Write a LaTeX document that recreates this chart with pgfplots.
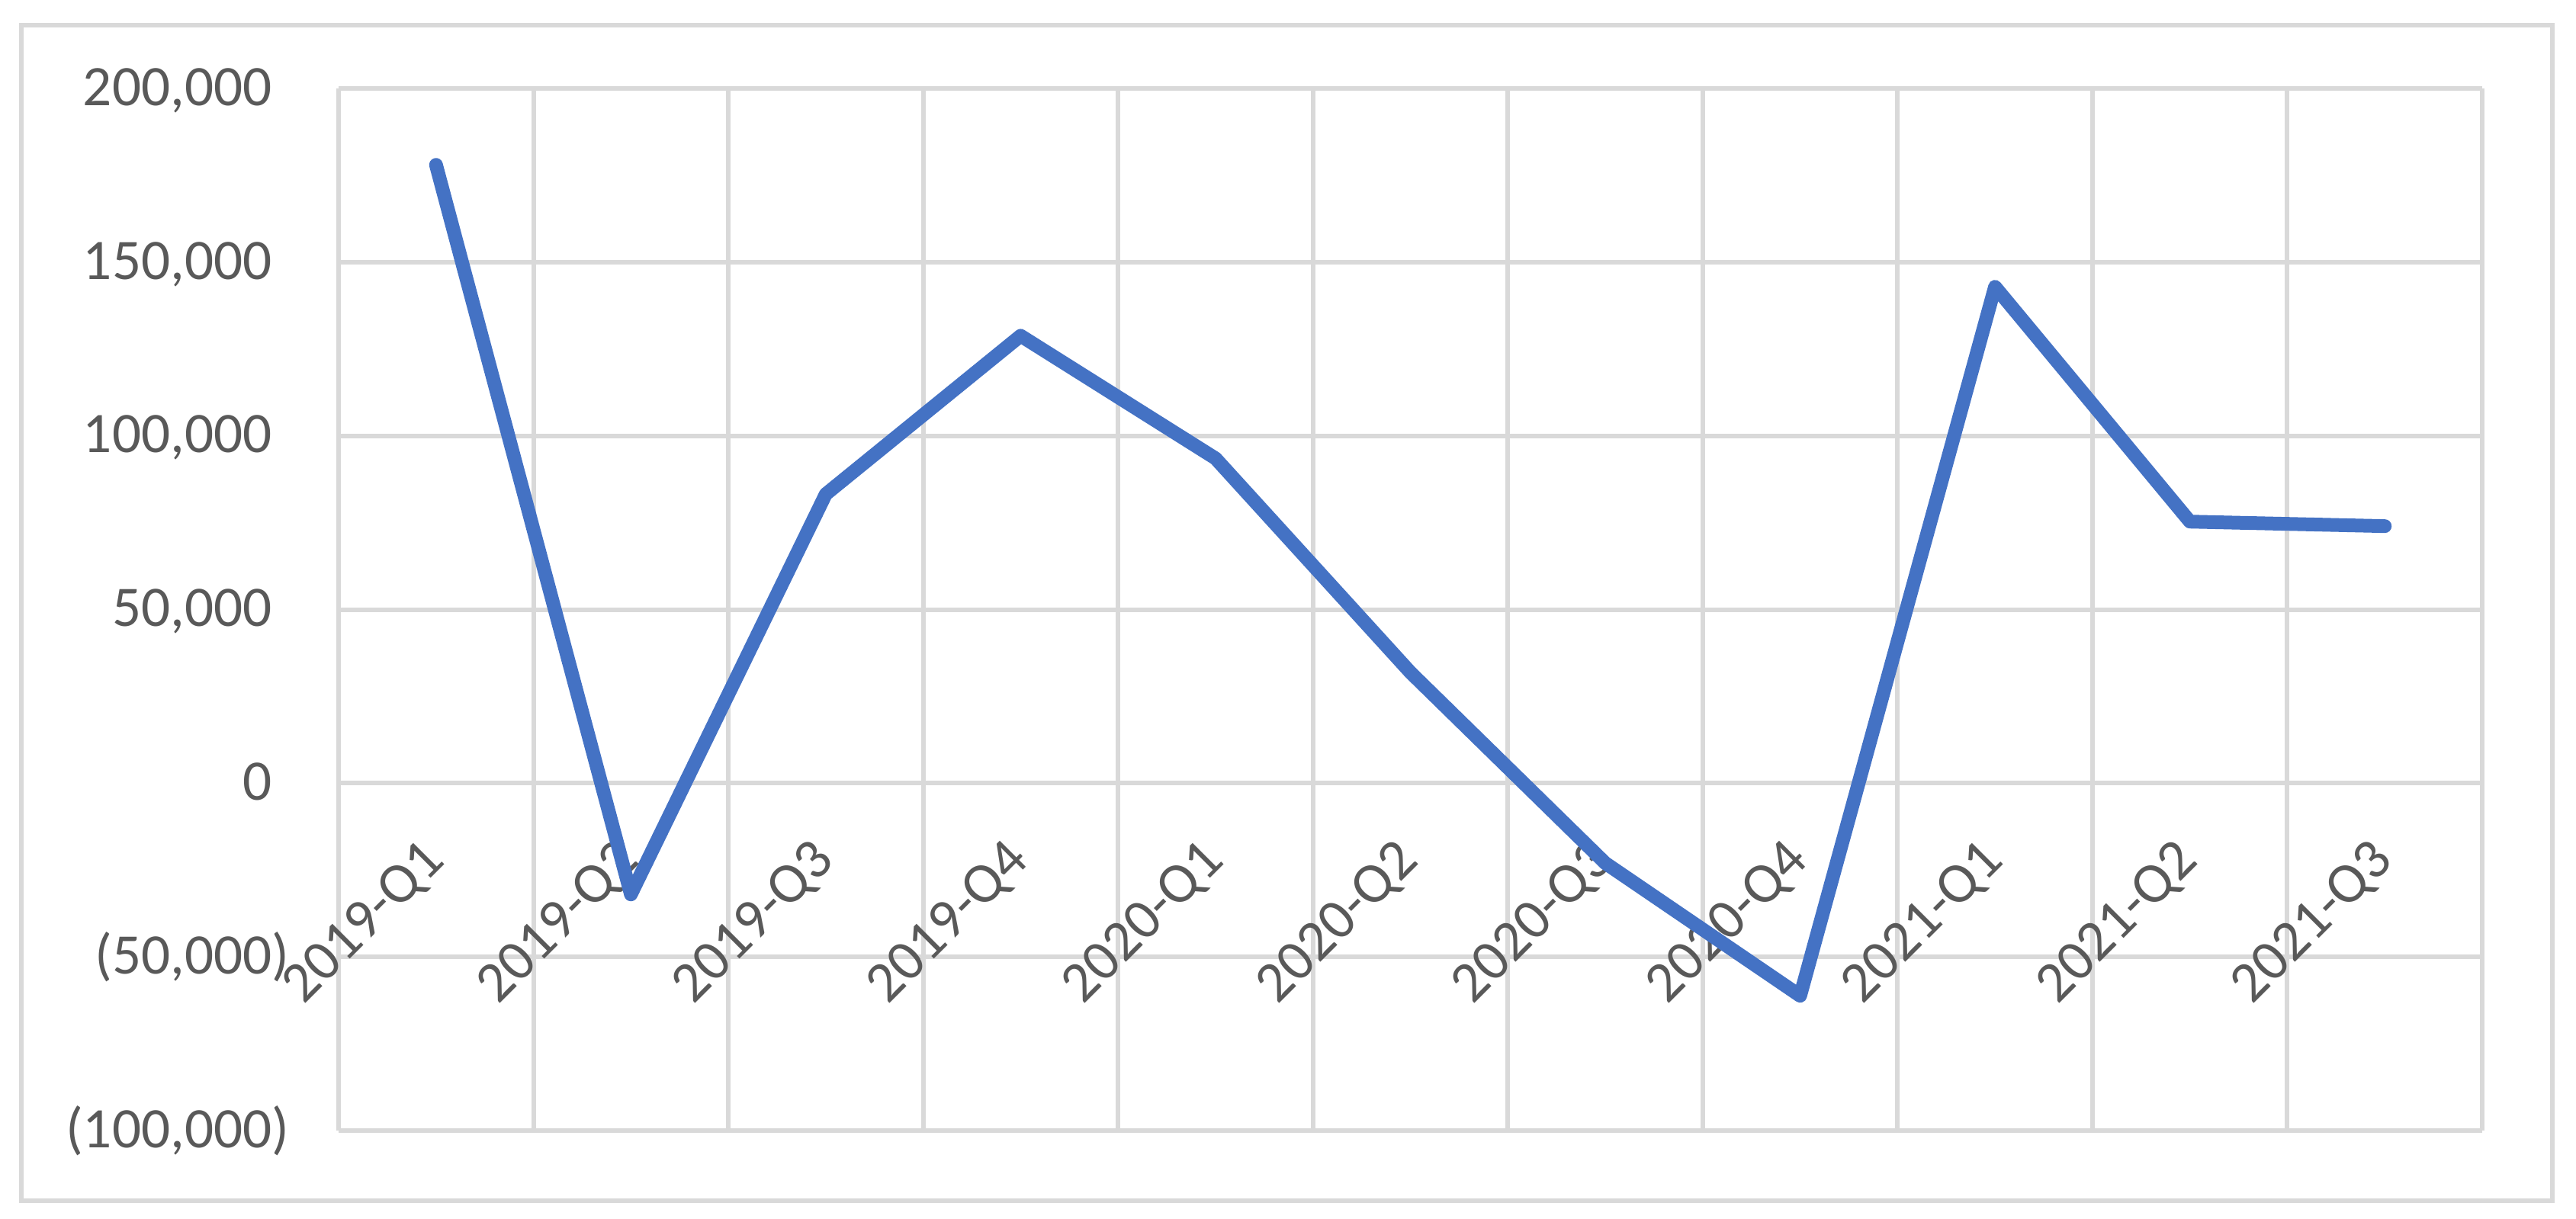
\documentclass[border=0pt]{standalone}
\usepackage{fontspec}
\setmainfont{Carlito}
\usepackage{pgfplots}
\pgfplotsset{compat=1.18}
\definecolor{lineblue}{HTML}{4472C4}
\definecolor{gridgray}{HTML}{D9D9D9}
\definecolor{labelgray}{HTML}{595959}
\pgfplotsset{
  layers/labels on top/.define layer set={
    axis background,axis grid,axis ticks,axis lines,pre main,main,
    axis tick labels,axis descriptions,axis foreground}{},
}
\begin{document}
\begin{tikzpicture}
\begin{axis}[name=ax,scale only axis,width=702.75pt,height=341.75pt,
  set layers=labels on top,
  xmin=0.5,xmax=11.5,ymin=-100000,ymax=200000,
  axis line style={draw=none},
  major tick length=0pt,minor tick length=0pt,
  xtick={1,...,11},
  xticklabels={2019-Q1,2019-Q2,2019-Q3,2019-Q4,2020-Q1,2020-Q2,2020-Q3,2020-Q4,2021-Q1,2021-Q2,2021-Q3},
  minor xtick={0.5,1.5,...,11.5},
  xmajorgrids=false,xminorgrids=true,ymajorgrids=true,
  ytick={-100000,-50000,0,50000,100000,150000,200000},
  yticklabels={{(100,000)},{(50,000)},{0\phantom{)}},{50,000\phantom{)}},{100,000\phantom{)}},{150,000\phantom{)}},{200,000\phantom{)}}},
  scaled y ticks=false,
  major grid style={gridgray,line width=1.5pt},
  minor grid style={gridgray,line width=1.5pt},
  tick label style={font=\fontsize{18.8}{22}\selectfont,text=labelgray,inner sep=0pt},
  y tick label style={anchor=east,xshift=-16pt},
  x tick label style={yshift=91.5pt,rotate=45,anchor=east},
]
\addplot[lineblue,line width=4.5pt,line join=round,line cap=round] coordinates {
  (1,178000) (2,-32000) (3,83200) (4,128800) (5,93500) (6,31900)
  (7,-23000) (8,-61200) (9,142900) (10,75300) (11,74000)};
\end{axis}
\draw[gridgray,line width=1.5pt] ([xshift=-104pt,yshift=-23pt]ax.south west) rectangle ([xshift=23pt,yshift=20.75pt]ax.north east);
\path ([xshift=-111pt,yshift=-28.75pt]ax.south west) rectangle ([xshift=30.75pt,yshift=29pt]ax.north east);
\end{tikzpicture}
\end{document}
